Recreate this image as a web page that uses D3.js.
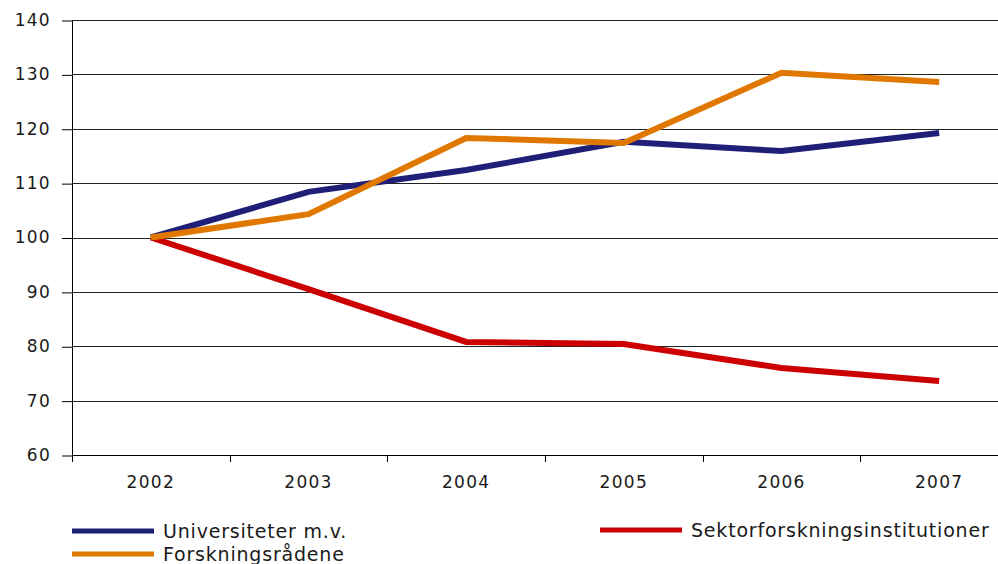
<!DOCTYPE html>
<html>
<head>
<meta charset="utf-8">
<script src="https://cdn.jsdelivr.net/npm/d3@7"></script>
<style>
  body { margin: 0; background: #fff; }
  svg { display: block; font-family: "DejaVu Sans", sans-serif; }
  .tick text { fill: #1a1a1a; }
</style>
</head>
<body>
<div id="wrapper"></div>
<script>
const years = ["2002", "2003", "2004", "2005", "2006", "2007"]
const universiteter = [100, 108.4, 112.4, 117.6, 115.9, 119.2]
const forskningsradene = [100, 104.3, 118.3, 117.4, 130.3, 128.6]
const sektor = [100, 90.5, 80.8, 80.4, 76.0, 73.6]
const yTicks = [60, 70, 80, 90, 100, 110, 120, 130, 140]

const seriesList = [
  { name: "Universiteter m.v.", values: universiteter, color: "#1f1f78" },
  { name: "Sektorforskningsinstitutioner", values: sektor, color: "#cc0000" },
  { name: "Forskningsrådene", values: forskningsradene, color: "#e07800" },
]

function drawChart() {

  // 1. Dimensions

  let dimensions = {
    width: 998,
    height: 564,
    margin: { top: 20, left: 72 },
    boundedWidth: 946,
    boundedHeight: 435,
  }

  // 2. Canvas

  const wrapper = d3.select("#wrapper")
    .append("svg")
      .attr("width", dimensions.width)
      .attr("height", dimensions.height)

  const bounds = wrapper.append("g")
      .attr("transform", `translate(${dimensions.margin.left}, ${dimensions.margin.top})`)

  // 3. Scales

  const xScale = d3.scaleLinear()
    .domain([0, years.length])
    .range([0, dimensions.boundedWidth])

  const yScale = d3.scaleLinear()
    .domain([60, 140])
    .range([dimensions.boundedHeight, 0])

  // 4. Gridlines and axes

  bounds.append("g")
    .selectAll("line")
    .data(yTicks.slice(1))
    .join("line")
      .attr("x1", 0)
      .attr("x2", dimensions.width - dimensions.margin.left)
      .attr("y1", d => Math.round(yScale(d)) + 0.5)
      .attr("y2", d => Math.round(yScale(d)) + 0.5)
      .attr("stroke", "#222")
      .attr("stroke-width", 1)

  const yAxis = bounds.append("g")
      .call(d3.axisLeft(yScale).tickValues(yTicks).tickSize(10).tickPadding(11))
  yAxis.select(".domain").remove()
  yAxis.append("line")
      .attr("x1", 0.5).attr("x2", 0.5)
      .attr("y1", 0).attr("y2", dimensions.boundedHeight)
      .attr("stroke", "#000")
  yAxis.selectAll(".tick line").attr("stroke", "#000").attr("transform", "translate(0,0.5)")
  yAxis.selectAll(".tick text")
      .attr("font-size", 17)
      .attr("letter-spacing", 1.3)
      .attr("font-family", "DejaVu Sans, sans-serif")

  const xAxis = bounds.append("g")
      .attr("transform", `translate(0, ${dimensions.boundedHeight})`)
  xAxis.append("line")
      .attr("x1", 0).attr("x2", dimensions.width - dimensions.margin.left)
      .attr("y1", 0.5).attr("y2", 0.5)
      .attr("stroke", "#000")
  xAxis.selectAll(".xtick")
    .data(d3.range(years.length))
    .join("line")
      .attr("class", "xtick")
      .attr("x1", d => Math.round(xScale(d)) + 0.5)
      .attr("x2", d => Math.round(xScale(d)) + 0.5)
      .attr("y1", 0).attr("y2", 7)
      .attr("stroke", "#000")
  xAxis.selectAll(".xlabel")
    .data(years)
    .join("text")
      .attr("class", "xlabel")
      .attr("x", (d, i) => xScale(i + 0.5))
      .attr("y", 33)
      .attr("text-anchor", "middle")
      .attr("font-size", 17)
      .attr("letter-spacing", 1.3)
      .attr("fill", "#1a1a1a")
      .text(d => d)

  // 5. Lines

  const lineGenerator = d3.line()
    .x((d, i) => xScale(i + 0.5))
    .y(d => yScale(d))

  bounds.selectAll(".series")
    .data([seriesList[1], seriesList[0], seriesList[2]])
    .join("path")
      .attr("class", "series")
      .attr("d", d => lineGenerator(d.values))
      .attr("fill", "none")
      .attr("stroke", d => d.color)
      .attr("stroke-width", 6)
      .attr("stroke-linejoin", "miter")

  // 6. Legend

  const legendItems = [
    { s: seriesList[0], x: 72, y: 531 },
    { s: seriesList[1], x: 600, y: 530 },
    { s: seriesList[2], x: 72, y: 554 },
  ]
  const legend = wrapper.selectAll(".legend")
    .data(legendItems)
    .join("g")
      .attr("class", "legend")
      .attr("transform", d => `translate(${d.x}, ${d.y})`)
  legend.append("line")
      .attr("x1", 0).attr("x2", 82)
      .attr("stroke", d => d.s.color)
      .attr("stroke-width", 5)
  legend.append("text")
      .attr("x", 91)
      .attr("y", 7)
      .attr("font-size", 19)
      .attr("letter-spacing", 0.8)
      .attr("fill", "#1a1a1a")
      .text(d => d.s.name)
}
drawChart()
</script>
</body>
</html>
